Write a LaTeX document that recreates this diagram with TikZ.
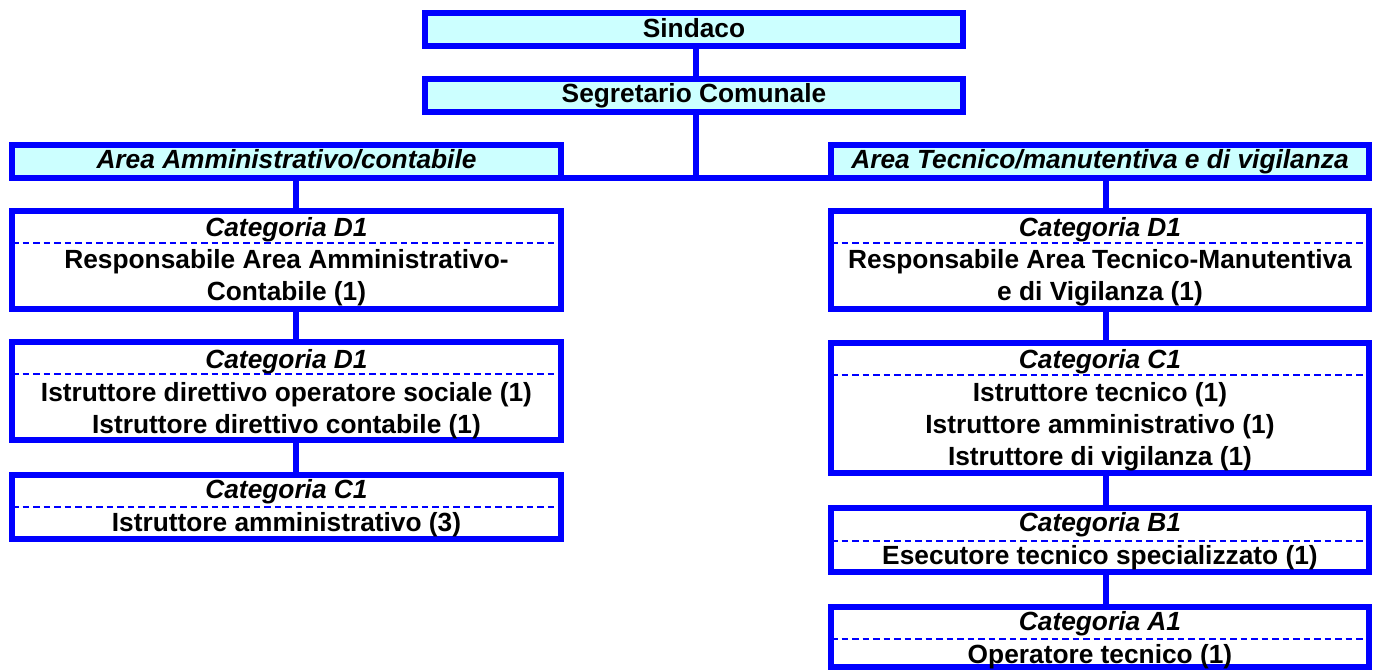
\documentclass[tikz,border=0pt]{standalone}
\usepackage{fontspec}
\setmainfont{Liberation Sans}
\definecolor{boxblue}{HTML}{0000FF}
\definecolor{boxfill}{HTML}{CCFFFF}
\begin{document}
\begin{tikzpicture}[x=1pt,y=-1pt,
  box/.style={draw=boxblue,line width=6pt,rectangle,inner sep=0pt,outer sep=0pt},
  headbox/.style={box,fill=boxfill},
  link/.style={draw=boxblue,line width=6pt},
  sepline/.style={draw=boxblue,line width=2.6pt,dash pattern=on 6.5pt off 4pt},
  txt/.style={anchor=base,inner sep=0pt,font=\fontsize{26.3}{30}\selectfont\bfseries},
  itxt/.style={txt,font=\fontsize{26.3}{30}\selectfont\bfseries\itshape}]
\useasboundingbox (0,0) rectangle (1377,670);
% boxes
\node[headbox,minimum width=538pt,minimum height=33pt] (sind) at (694,29.5) {};
\node[headbox,minimum width=538pt,minimum height=33pt] (segr) at (694,95.5) {};
\node[headbox,minimum width=549pt,minimum height=33pt] (areaL) at (286.5,161.5) {};
\node[headbox,minimum width=538pt,minimum height=33pt] (areaR) at (1100,161.5) {};
\node[box,minimum width=549pt,minimum height=98pt] (ld1) at (286.5,260) {};
\node[box,minimum width=549pt,minimum height=98pt] (ld2) at (286.5,391) {};
\node[box,minimum width=549pt,minimum height=64pt] (lc1) at (286.5,507) {};
\node[box,minimum width=538pt,minimum height=98pt] (rd1) at (1100,260) {};
\node[box,minimum width=538pt,minimum height=130pt] (rc1) at (1100,408) {};
\node[box,minimum width=538pt,minimum height=64pt] (rb1) at (1100,540) {};
\node[box,minimum width=538pt,minimum height=60pt] (ra1) at (1100,637) {};
% connector coordinates
\coordinate (cx) at (696,0);
\coordinate (lx) at (296,0);
\coordinate (rx) at (1106,0);
\coordinate (bar) at (0,178);
% connectors
\draw[link] (sind.south -| cx) -- (segr.north -| cx);
\draw[link] (segr.south -| cx) -- (cx |- bar);
\draw[link] (areaL.east |- bar) -- (areaR.west |- bar);
\draw[link] (areaL.south -| lx) -- (ld1.north -| lx);
\draw[link] (ld1.south -| lx) -- (ld2.north -| lx);
\draw[link] (ld2.south -| lx) -- (lc1.north -| lx);
\draw[link] (areaR.south -| rx) -- (rd1.north -| rx);
\draw[link] (rd1.south -| rx) -- (rc1.north -| rx);
\draw[link] (rc1.south -| rx) -- (rb1.north -| rx);
\draw[link] (rb1.south -| rx) -- (ra1.north -| rx);
% dashed separators
\draw[sepline] (ld1.west |- 0,243) -- (ld1.east |- 0,243);
\draw[sepline] (ld2.west |- 0,374) -- (ld2.east |- 0,374);
\draw[sepline] (lc1.west |- 0,507) -- (lc1.east |- 0,507);
\draw[sepline] (rd1.west |- 0,243) -- (rd1.east |- 0,243);
\draw[sepline] (rc1.west |- 0,375) -- (rc1.east |- 0,375);
\draw[sepline] (rb1.west |- 0,541) -- (rb1.east |- 0,541);
\draw[sepline] (ra1.west |- 0,639) -- (ra1.east |- 0,639);
% texts
\node[txt] (tsind) at (694,37) {Sindaco};
\node[txt] (tsegr) at (694,102) {Segretario Comunale};
\node[itxt] (tareaL) at (286.5,168) {Area Amministrativo/contabile};
\node[itxt] (tareaR) at (1100,168) {Area Tecnico/manutentiva e di vigilanza};
\node[itxt] (tld1h) at (286.5,236) {Categoria D1};
\node[txt] (tld1a) at (286.5,268) {Responsabile Area Amministrativo-};
\node[txt] (tld1b) at (286.5,300) {Contabile (1)};
\node[itxt] (tld2h) at (286.5,368) {Categoria D1};
\node[txt] (tld2a) at (286.5,401) {Istruttore direttivo operatore sociale (1)};
\node[txt] (tld2b) at (286.5,433) {Istruttore direttivo contabile (1)};
\node[itxt] (tlc1h) at (286.5,498) {Categoria C1};
\node[txt] (tlc1a) at (286.5,531) {Istruttore amministrativo (3)};
\node[itxt] (trd1h) at (1100,236) {Categoria D1};
\node[txt] (trd1a) at (1100,268) {Responsabile Area Tecnico-Manutentiva};
\node[txt] (trd1b) at (1100,300) {e di Vigilanza (1)};
\node[itxt] (trc1h) at (1100,368) {Categoria C1};
\node[txt] (trc1a) at (1100,401) {Istruttore tecnico (1)};
\node[txt] (trc1b) at (1100,433) {Istruttore amministrativo (1)};
\node[txt] (trc1c) at (1100,465) {Istruttore di vigilanza (1)};
\node[itxt] (trb1h) at (1100,531) {Categoria B1};
\node[txt] (trb1a) at (1100,564) {Esecutore tecnico specializzato (1)};
\node[itxt] (tra1h) at (1100,630) {Categoria A1};
\node[txt] (tra1a) at (1100,663) {Operatore tecnico (1)};
\end{tikzpicture}
\end{document}
